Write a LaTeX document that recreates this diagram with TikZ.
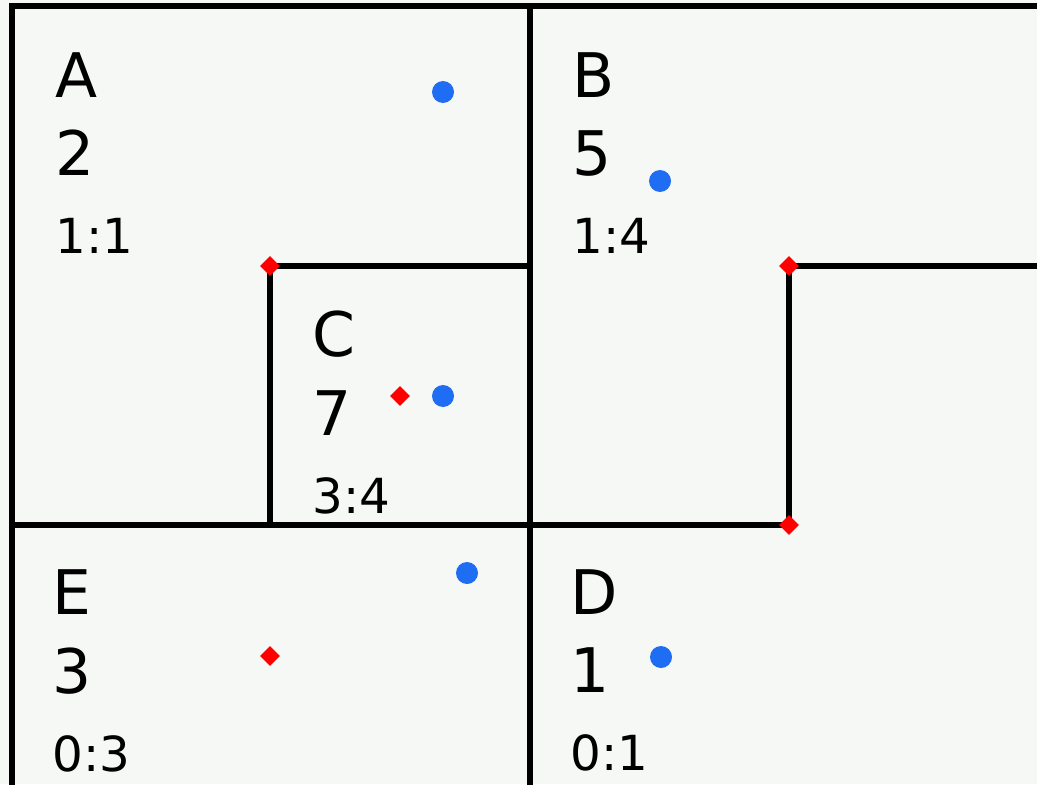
\documentclass[tikz,border=0pt]{standalone}
\usepackage{fontspec}
\setmainfont{DejaVu Sans}
\usetikzlibrary{shapes.geometric}
\definecolor{paper}{HTML}{F6F8F6}
\definecolor{dotblue}{HTML}{1F6DF2}
\definecolor{pivotred}{HTML}{FF0000}

\begin{document}
\begin{tikzpicture}[x=0.02cm, y=-0.02cm,
  wall/.style={line width=3.4pt, line join=miter, line cap=rect},
  pivot/.style={diamond, fill=pivotred, inner sep=0pt, minimum size=0.4cm},
  site/.style={circle, fill=dotblue, inner sep=0pt, minimum size=0.44cm},
  big/.style={anchor=base west, inner sep=0pt, font=\fontsize{35}{40}\selectfont},
  small/.style={anchor=base west, inner sep=0pt, font=\fontsize{27.5}{32}\selectfont},
]
\fill[paper] (0,0) rectangle (1037,784);
\useasboundingbox (0,0) rectangle (1037,784);

% frame and splits
\coordinate (tl) at (12,6);
\coordinate (tr) at (1045,6);
\coordinate (bl) at (12,789);
\coordinate (br) at (1045,789);
\coordinate (tm) at (530,6);
\coordinate (bm) at (530,789);
\coordinate (ml) at (12,525);
\coordinate (s1) at (270,266);
\coordinate (s2) at (789,266);
\coordinate (s3) at (789,525);
\coordinate (s4) at (400,396);
\coordinate (s5) at (270,656);

\draw[wall] (tr) -- (tl) -- (bl) -- (br);
\draw[wall] (tm) -- (bm);
\draw[wall] (ml) -- (s3);
\draw[wall] (s1) -- (s1 -| tm);
\draw[wall] (s1) -- (s1 |- ml);
\draw[wall] (s2) -- (s2 -| tr);
\draw[wall] (s2) -- (s3);

% pivots
\node[pivot] (d1) at (s1) {};
\node[pivot] (d2) at (s2) {};
\node[pivot] (d3) at (s3) {};
\node[pivot] (d4) at (s4) {};
\node[pivot] (d5) at (s5) {};

% sites
\node[site] (ka) at (443,92) {};
\node[site] (kb) at (660,181) {};
\node[site] (kc) at (443,396) {};
\node[site] (ke) at (467,573) {};
\node[site] (kd) at (661,657) {};

% A
\node[big] (na) at (55,97) {A};
\node[big] (va) at (55,175) {2};
\node[small] (ra) at (55,253) {1:1};

% B
\node[big] (nb) at (572,97) {B};
\node[big] (vb) at (572,175) {5};
\node[small] (rb) at (572,253) {1:4};

% C
\node[big] (nc) at (312,356) {C};
\node[big] (vc) at (312,435) {7};
\node[small] (rc) at (312,513) {3:4};

% E
\node[big] (ne) at (52,614) {E};
\node[big] (ve) at (52,693) {3};
\node[small] (re) at (52,771) {0:3};

% D
\node[big] (nd) at (570,614) {D};
\node[big] (vd) at (570,692) {1};
\node[small] (rd) at (570,770) {0:1};
\end{tikzpicture}
\end{document}
